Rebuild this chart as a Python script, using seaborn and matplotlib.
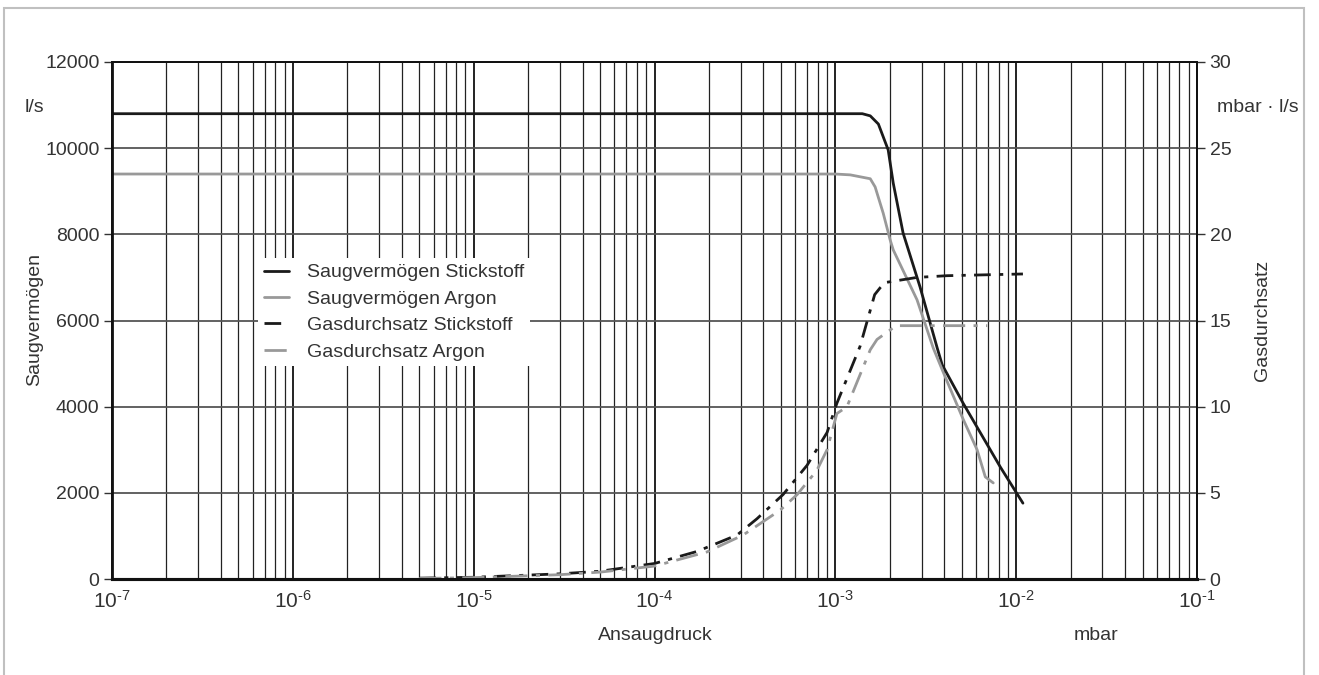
import numpy as np
import matplotlib
matplotlib.use("Agg")
import matplotlib.pyplot as plt
from matplotlib.ticker import LogLocator, FixedLocator, NullFormatter
from matplotlib.patches import Rectangle
import seaborn as sns

# pressure (mbar) and pumping speed (l/s)
p_saug_n2 = [1e-7, 1e-5, 1e-3, 1.41e-3, 1.56e-3, 1.73e-3, 1.96e-3, 2.09e-3, 2.37e-3,
             2.94e-3, 3.66e-3, 3.90e-3, 5.09e-3, 8.17e-3, 1.09e-2]
s_n2 = [10800, 10800, 10800, 10800, 10750, 10560, 9960, 9190, 8030,
        6780, 5360, 4970, 4080, 2600, 1760]

p_saug_ar = [1e-7, 1e-5, 1e-3, 1.21e-3, 1.56e-3, 1.66e-3, 1.84e-3, 2.01e-3, 2.09e-3,
             2.83e-3, 3.48e-3, 3.95e-3, 5.09e-3, 6.08e-3, 6.75e-3, 7.47e-3]
s_ar = [9400, 9400, 9400, 9380, 9290, 9100, 8490, 7870, 7640,
        6480, 5360, 4800, 3710, 3000, 2370, 2230]

# pressure (mbar) and throughput (mbar l/s)
p_gas_n2 = [5e-6, 1e-5, 3e-5, 5e-5, 1e-4, 1.72e-4, 2.86e-4, 3.69e-4, 5.14e-4, 6.98e-4,
            9.0e-4, 1.02e-3, 1.37e-3, 1.65e-3, 1.77e-3, 1.88e-3, 2.83e-3, 4.15e-3, 1.09e-2]
q_n2 = [0.05, 0.1, 0.3, 0.45, 0.9, 1.6, 2.55, 3.5, 4.9, 6.6,
        8.5, 10.2, 13.5, 16.5, 16.9, 17.2, 17.5, 17.6, 17.7]

p_gas_ar = [5e-6, 1e-5, 3e-5, 5e-5, 1e-4, 1.95e-4, 3.09e-4, 4.96e-4, 6.15e-4, 7.9e-4,
            9.0e-4, 1.02e-3, 1.16e-3, 1.56e-3, 1.70e-3, 2.01e-3, 2.17e-3, 6.92e-3]
q_ar = [0.03, 0.08, 0.25, 0.4, 0.75, 1.57, 2.55, 4.0, 4.9, 6.3,
        7.5, 9.6, 10.0, 13.3, 13.9, 14.45, 14.7, 14.7]

labels = ["Saugvermögen Stickstoff", "Saugvermögen Argon",
          "Gasdurchsatz Stickstoff", "Gasdurchsatz Argon"]
left_ticks = [0, 2000, 4000, 6000, 8000, 10000, 12000]
right_ticks = [0, 5, 10, 15, 20, 25, 30]
decades = [1e-7, 1e-6, 1e-5, 1e-4, 1e-3, 1e-2, 1e-1]

sns.set_style("white")
plt.rcParams["font.family"] = ["Liberation Sans", "DejaVu Sans"]
plt.rcParams["mathtext.fontset"] = "custom"
plt.rcParams["mathtext.rm"] = "Liberation Sans"
plt.rcParams["mathtext.default"] = "regular"
txt = "#333333"
fs = 14

fig = plt.figure(figsize=(13.19, 6.75), dpi=100)
ax = fig.add_axes([112 / 1319, 1 - 579 / 675, (1197 - 112) / 1319, (579 - 62) / 675])
ax2 = ax.twinx()

sns.lineplot(x=p_saug_n2, y=s_n2, ax=ax, color="#1a1a1a", lw=2, label=labels[0])
sns.lineplot(x=p_saug_ar, y=s_ar, ax=ax, color="#999999", lw=2, label=labels[1])
sns.lineplot(x=p_gas_n2, y=q_n2, ax=ax2, color="#1a1a1a", lw=2, label=labels[2],
             linestyle=(0, (6, 3, 1.5, 3)))
sns.lineplot(x=p_gas_ar, y=q_ar, ax=ax2, color="#999999", lw=2, label=labels[3],
             linestyle=(0, (8, 3, 1.5, 3)))

ax.set_xscale("log")
ax.set_xlim(1e-7, 1e-1)
ax.set_ylim(0, 12000)
ax2.set_ylim(0, 30)
ax.xaxis.set_major_locator(FixedLocator(decades))
ax.xaxis.set_minor_locator(LogLocator(base=10, subs=range(2, 10), numticks=20))
ax.xaxis.set_minor_formatter(NullFormatter())
ax.set_xticklabels(["$10^{\\text{-}%d}$" % -int(np.log10(d)) for d in decades])
ax.set_yticks(left_ticks)
ax2.set_yticks(right_ticks)

ax.grid(which="major", axis="x", color="#111111", lw=1.3)
ax.grid(which="minor", axis="x", color="#222222", lw=0.9)
ax.grid(which="major", axis="y", color="#555555", lw=1.3)
ax.set_axisbelow(True)

ax.tick_params(axis="x", which="major", length=5, width=1, color="#333333",
               labelsize=fs + 1, labelcolor=txt, pad=3)
ax.tick_params(axis="x", which="minor", length=0)
ax.tick_params(axis="y", length=6, width=1, color="#333333", labelsize=fs,
               labelcolor=txt, pad=3, left=True)
ax2.tick_params(axis="y", length=6, width=1, color="#333333", labelsize=fs,
                labelcolor=txt, pad=3, right=True)
for a in (ax, ax2):
    for s in a.spines.values():
        s.set_color("#111111")
        s.set_linewidth(1.3)
ax.spines["bottom"].set_linewidth(2.2)
ax.spines["left"].set_linewidth(2)
ax2.spines["bottom"].set_linewidth(2.2)

ax.set_xlabel("")
ax.set_ylabel("")
ax2.set_ylabel("")
fig.text(35 / 1319, 1 - 320 / 675, "Saugvermögen", rotation=90, ha="center",
         va="center", fontsize=fs, color=txt)
fig.text(1262 / 1319, 1 - 320 / 675, "Gasdurchsatz", rotation=90, ha="center",
         va="center", fontsize=fs, color=txt)
fig.text(25 / 1319, 1 - 108 / 675, "l/s", ha="left", va="center", fontsize=fs, color=txt)
fig.text(1299 / 1319, 1 - 108 / 675, "mbar · l/s", ha="right", va="center",
         fontsize=fs, color=txt)
fig.text(655 / 1319, 1 - 635 / 675, "Ansaugdruck", ha="center", va="center",
         fontsize=fs, color=txt)
fig.text(1096 / 1319, 1 - 635 / 675, "mbar", ha="center", va="center",
         fontsize=fs, color=txt)

# one legend on top of both axes
h1, l1 = ax.get_legend_handles_labels()
h2, l2 = ax2.get_legend_handles_labels()
ax.get_legend().remove()
ax2.get_legend().remove()
leg = ax2.legend(h1 + h2, l1 + l2, loc="upper left",
                 bbox_to_anchor=(258 / 1319, 1 - 258 / 675), bbox_transform=fig.transFigure,
                 frameon=True, fancybox=False, framealpha=1, edgecolor="none",
                 facecolor="white", fontsize=fs, handlelength=1.3, handletextpad=0.9,
                 labelspacing=0.45, borderpad=0.3, borderaxespad=0)
for t in leg.get_texts():
    t.set_color(txt)

# light frame round the figure
fig.patches.append(Rectangle((4 / 1319, -0.1), 1300 / 1319, 1.088, transform=fig.transFigure,
                             fill=False, edgecolor="#c0c0c0", lw=1.5))

fig.savefig("out.png", dpi=100)
